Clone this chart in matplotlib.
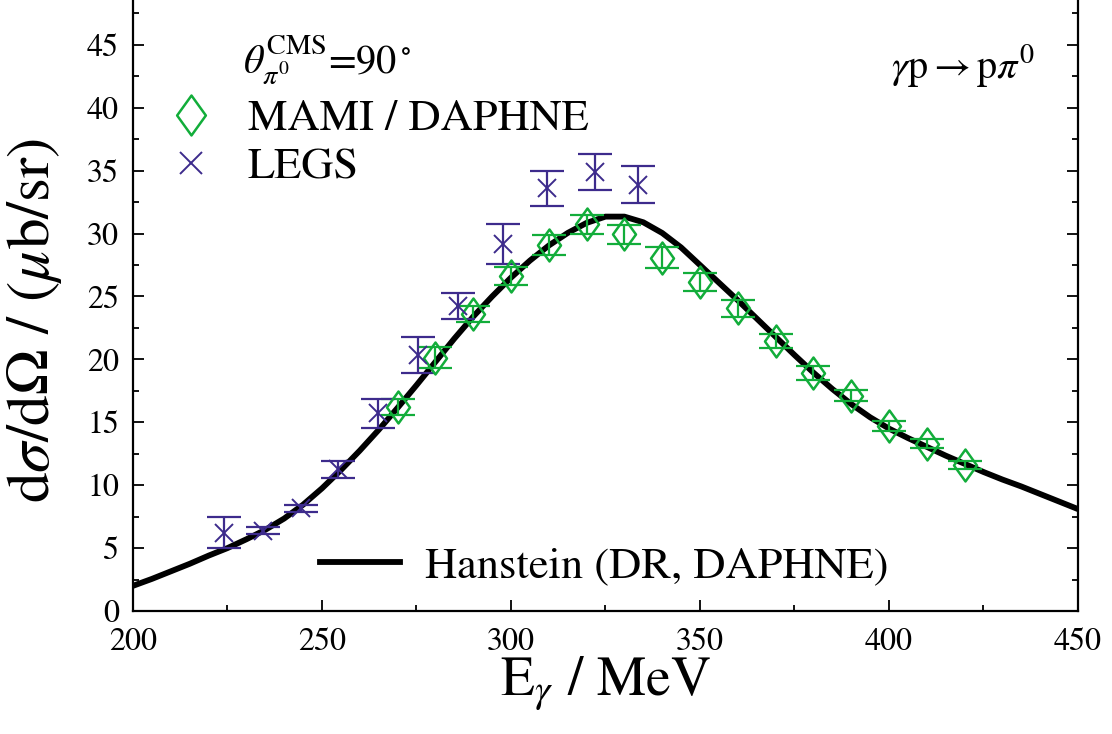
import matplotlib
matplotlib.use('Agg')
import matplotlib.pyplot as plt
from matplotlib.path import Path
from matplotlib.ticker import MultipleLocator

# MAMI / DAPHNE points
mami_e = [270, 280, 290, 300, 310, 320, 330, 340, 350, 360, 370, 380, 390, 400, 410, 420]
mami_xs = [16.2, 20.15, 23.6, 26.65, 29.1, 30.75, 29.95, 28.1, 26.15, 24.05, 21.45, 18.9, 17.1, 14.7, 13.3, 11.6]
mami_err = [0.62, 0.8, 0.65, 0.73, 0.8, 0.76, 0.76, 0.8, 0.75, 0.66, 0.57, 0.55, 0.43, 0.4, 0.36, 0.32]

# LEGS points
legs_e = [224.1, 234.3, 244.4, 254.3, 264.9, 275.3, 286.1, 297.8, 309.4, 322.3, 333.7]
legs_xs = [6.22, 6.38, 8.16, 11.26, 15.7, 20.35, 24.25, 29.2, 33.6, 34.9, 33.9]
legs_err = [1.23, 0.3, 0.27, 0.68, 1.15, 1.45, 1.05, 1.6, 1.38, 1.4, 1.5]

# Hanstein (DR, DAPHNE) curve, read every 5 MeV
curve_e = list(range(200, 451, 5))
curve_xs = [2.0, 2.55, 3.15, 3.75, 4.4, 5.0, 5.7, 6.45, 7.35, 8.45,
            9.75, 11.2, 12.75, 14.4, 16.15, 17.95, 19.8, 21.65, 23.4, 25.0,
            26.5, 27.85, 29.05, 30.05, 30.85, 31.35, 31.35, 30.9, 30.05, 28.9,
            27.5, 26.1, 24.7, 23.25, 21.8, 20.35, 18.95, 17.65, 16.45, 15.4,
            14.5, 13.75, 13.05, 12.35, 11.7, 11.05, 10.45, 9.9, 9.3, 8.7, 8.1]

green = '#12ad3a'
purple = '#3d2b8c'

plt.rcParams['font.family'] = ['STIXGeneral', 'DejaVu Serif']
plt.rcParams['mathtext.fontset'] = 'stix'

# tall diamond marker
diamond = Path([(0, 1), (0.72, 0), (0, -1), (-0.72, 0), (0, 1)],
               [Path.MOVETO, Path.LINETO, Path.LINETO, Path.LINETO, Path.CLOSEPOLY])

fig = plt.figure(figsize=(11.12, 7.34), dpi=100)
ax = fig.add_axes([0.1196, 0.1676, 0.8498, 0.8324])

hline, = ax.plot(curve_e, curve_xs, color='black', lw=4.2, zorder=1,
                 solid_joinstyle='round')

ax.errorbar(mami_e, mami_xs, yerr=mami_err, fmt='none', ecolor=green,
            elinewidth=1.6, capsize=12.5, capthick=1.6, zorder=3)
mline, = ax.plot(mami_e, mami_xs, ls='none', marker=diamond, ms=23,
                 mfc='none', mec=green, mew=1.8, zorder=4)

ax.errorbar(legs_e, legs_xs, yerr=legs_err, fmt='none', ecolor=purple,
            elinewidth=1.6, capsize=12.5, capthick=1.6, zorder=3)
lline, = ax.plot(legs_e, legs_xs, ls='none', marker='x', ms=13,
                 mec=purple, mew=1.4, zorder=4)

ax.set_xlim(200, 450)
ax.set_ylim(0, 48.57)
ax.xaxis.set_major_locator(MultipleLocator(50))
ax.xaxis.set_minor_locator(MultipleLocator(25))
ax.yaxis.set_major_locator(MultipleLocator(5))
ax.yaxis.set_minor_locator(MultipleLocator(2.5))
ax.tick_params(which='both', direction='in', top=False, right=True, width=1.3)
ax.tick_params(which='major', length=8, labelsize=23)
ax.tick_params(axis='x', which='major', pad=12)
ax.tick_params(axis='y', which='major', pad=10)
ax.tick_params(which='minor', length=4)
ax.set_yticks(range(0, 46, 5))
for s in ax.spines.values():
    s.set_linewidth(1.6)
ax.spines['top'].set_visible(False)

ax.set_xlabel(r'E$_\gamma$ / MeV', fontsize=40)
ax.xaxis.set_label_coords(0.5, -0.072)
ax.set_ylabel(r'd$\sigma$/d$\Omega$ / ($\mu$b/sr)', fontsize=44)
ax.yaxis.set_label_coords(-0.073, 0.475)

ax.text(0.116, 0.88, r'$\theta_{\pi^0}^{\rm CMS}$=90$^\circ$', transform=ax.transAxes,
        fontsize=29, ha='left', va='baseline')
ax.text(0.9545, 0.872, r'$\gamma$p$\rightarrow$p$\pi^0$', transform=ax.transAxes,
        fontsize=29, ha='right', va='baseline')

leg1 = ax.legend([mline, lline], ['MAMI / DAPHNE', 'LEGS'], loc='upper left',
                 bbox_to_anchor=(0.033, 0.838), frameon=False, fontsize=32,
                 markerscale=1.25, handlelength=1.2, handletextpad=0.68,
                 labelspacing=0.18, borderpad=0, borderaxespad=0)
ax.add_artist(leg1)
ax.legend([hline], ['Hanstein (DR, DAPHNE)'], loc='lower left',
          bbox_to_anchor=(0.198, 0.04), frameon=False, fontsize=32,
          handlelength=1.8, handletextpad=0.56, borderpad=0, borderaxespad=0)

fig.savefig('out.png', dpi=100)
